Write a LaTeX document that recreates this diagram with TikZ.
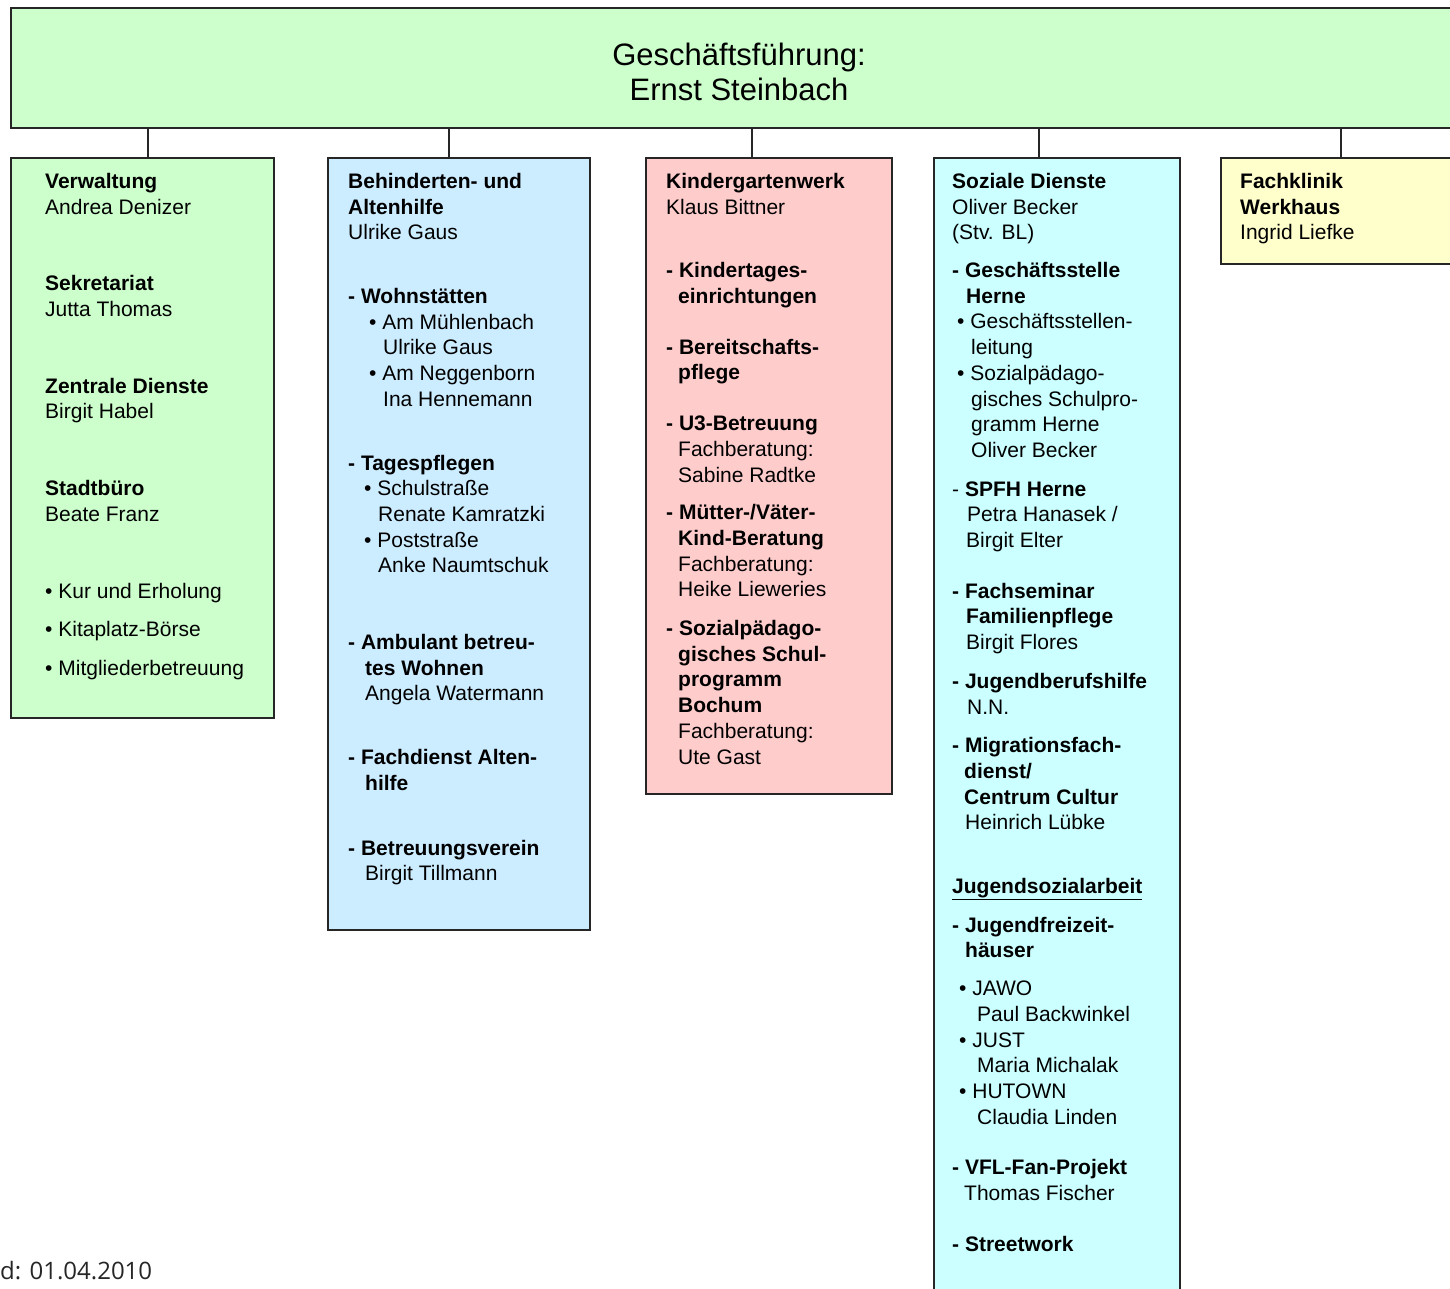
\documentclass[tikz,border=0pt]{standalone}
\usepackage{fontspec}
\setmainfont{Liberation Sans}
\newfontfamily\standfont{Open Sans}
\usetikzlibrary{positioning}

\definecolor{gruen}{HTML}{CCFFCC}
\definecolor{hellblau}{HTML}{CCECFF}
\definecolor{rosa}{HTML}{FFCCCC}
\definecolor{tuerkis}{HTML}{CCFFFF}
\definecolor{gelb}{HTML}{FFFFCC}

\newcommand{\ein}[1]{\hspace*{#1pt}}

\tikzset{
  abteilung/.style={draw=black!85, line width=1.6pt, anchor=north west, inner sep=0pt},
  inhalt/.style={anchor=north west, align=left, inner sep=0pt,
    font=\fontsize{21}{25.7}\selectfont},
  linie/.style={line width=1.2pt, black!85},
}

\begin{document}
\begin{tikzpicture}[x=1pt,y=-1pt]
  \useasboundingbox (0,0) rectangle (1450,1288);
  \clip (0,0) rectangle (1450,1288);

  % Geschaeftsfuehrung
  \node[abteilung, fill=gruen, minimum width=1460pt, minimum height=120pt] (gf) at (10,7) {};
  \node[align=center, inner sep=0pt, font=\fontsize{31}{35}\selectfont] (gftext) at (739,72)
    {Geschäftsführung:\\Ernst Steinbach};

  % Bereiche
  \node[abteilung, fill=gruen, minimum width=263pt, minimum height=560pt] (verw) at (10,157) {};
  \node[abteilung, fill=hellblau, minimum width=262pt, minimum height=772pt] (alten) at (327,157) {};
  \node[abteilung, fill=rosa, minimum width=246pt, minimum height=636pt] (kiga) at (645,157) {};
  \node[abteilung, fill=tuerkis, minimum width=246pt, minimum height=1200pt] (sozial) at (933,157) {};
  \node[abteilung, fill=gelb, minimum width=260pt, minimum height=106pt] (klinik) at (1220,157) {};

  % Verbindungen
  \coordinate (c1) at (148,0);
  \coordinate (c2) at (449,0);
  \coordinate (c3) at (752,0);
  \coordinate (c4) at (1039,0);
  \coordinate (c5) at (1341,0);
  \draw[linie] (gf.south -| c1) -- (verw.north -| c1);
  \draw[linie] (gf.south -| c2) -- (alten.north -| c2);
  \draw[linie] (gf.south -| c3) -- (kiga.north -| c3);
  \draw[linie] (gf.south -| c4) -- (sozial.north -| c4);
  \draw[linie] (gf.south -| c5) -- (klinik.north -| c5);

  % Texte
  \node[inhalt] (verwtext) at (45,173) {%
    \textbf{Verwaltung}\\
    Andrea Denizer\\[51pt]
    \textbf{Sekretariat}\\
    Jutta Thomas\\[51pt]
    \textbf{Zentrale Dienste}\\
    Birgit Habel\\[51pt]
    \textbf{Stadtbüro}\\
    Beate Franz\\[51pt]
    • Kur und Erholung\\[13pt]
    • Kitaplatz-Börse\\[13pt]
    • Mitgliederbetreuung};

  \node[inhalt] (altentext) at (348,173) {%
    \textbf{Behinderten- und}\\
    \textbf{Altenhilfe}\\
    Ulrike Gaus\\[38pt]
    \textbf{- Wohnstätten}\\
    \ein{21}• Am Mühlenbach\\
    \ein{35}Ulrike Gaus\\
    \ein{21}• Am Neggenborn\\
    \ein{35}Ina Hennemann\\[38pt]
    \textbf{- Tagespflegen}\\
    \ein{16}• Schulstraße\\
    \ein{30}Renate Kamratzki\\
    \ein{16}• Poststraße\\
    \ein{30}Anke Naumtschuk\\[51pt]
    \textbf{- Ambulant betreu-}\\
    \ein{17}\textbf{tes Wohnen}\\
    \ein{17}Angela Watermann\\[38pt]
    \textbf{- Fachdienst Alten-}\\
    \ein{17}\textbf{hilfe}\\[39pt]
    \textbf{- Betreuungsverein}\\
    \ein{17}Birgit Tillmann};

  \node[inhalt] (kigatext) at (666,173) {%
    \textbf{Kindergartenwerk}\\
    Klaus Bittner\\[38pt]
    \textbf{- Kindertages-}\\
    \ein{12}\textbf{einrichtungen}\\[25pt]
    \textbf{- Bereitschafts-}\\
    \ein{12}\textbf{pflege}\\[25pt]
    \textbf{- U3-Betreuung}\\
    \ein{12}Fachberatung:\\
    \ein{12}Sabine Radtke\\[12pt]
    \textbf{- Mütter-/Väter-}\\
    \ein{12}\textbf{Kind-Beratung}\\
    \ein{12}Fachberatung:\\
    \ein{12}Heike Lieweries\\[13pt]
    \textbf{- Sozialpädago-}\\
    \ein{12}\textbf{gisches Schul-}\\
    \ein{12}\textbf{programm}\\
    \ein{12}\textbf{Bochum}\\
    \ein{12}Fachberatung:\\
    \ein{12}Ute Gast};

  \node[inhalt] (sozialtext) at (952,173) {%
    \textbf{Soziale Dienste}\\
    Oliver Becker\\
    (Stv. BL)\\[12pt]
    \textbf{- Geschäftsstelle}\\
    \ein{14}\textbf{Herne}\\
    \ein{5}• Geschäftsstellen-\\
    \ein{19}leitung\\
    \ein{5}• Sozialpädago-\\
    \ein{19}gisches Schulpro-\\
    \ein{19}gramm Herne\\
    \ein{19}Oliver Becker\\[13pt]
    - \textbf{SPFH Herne}\\
    \ein{15}Petra Hanasek /\\
    \ein{14}Birgit Elter\\[25pt]
    \textbf{- Fachseminar}\\
    \ein{14}\textbf{Familienpflege}\\
    \ein{14}Birgit Flores\\[13pt]
    \textbf{- Jugendberufshilfe}\\
    \ein{15}N.N.\\[13pt]
    \textbf{- Migrationsfach-}\\
    \ein{12}\textbf{dienst/}\\
    \ein{12}\textbf{Centrum Cultur}\\
    \ein{13}Heinrich Lübke\\[38pt]
    \underline{\textbf{Jugendsozialarbeit}}\\[13pt]
    \textbf{- Jugendfreizeit-}\\
    \ein{13}\textbf{häuser}\\[12pt]
    \ein{7}• JAWO\\
    \ein{25}Paul Backwinkel\\
    \ein{7}• JUST\\
    \ein{25}Maria Michalak\\
    \ein{7}• HUTOWN\\
    \ein{25}Claudia Linden\\[25pt]
    \textbf{- VFL-Fan-Projekt}\\
    \ein{12}Thomas Fischer\\[25pt]
    \textbf{- Streetwork}};

  \node[inhalt] (kliniktext) at (1240,173) {%
    \textbf{Fachklinik}\\
    \textbf{Werkhaus}\\
    Ingrid Liefke};

  % Stand
  \node[anchor=base west, inner sep=0pt, font=\standfont\fontsize{24}{28}\selectfont, black!85]
    (stand) at (0,1279) {d: 01.04.2010};
\end{tikzpicture}
\end{document}
